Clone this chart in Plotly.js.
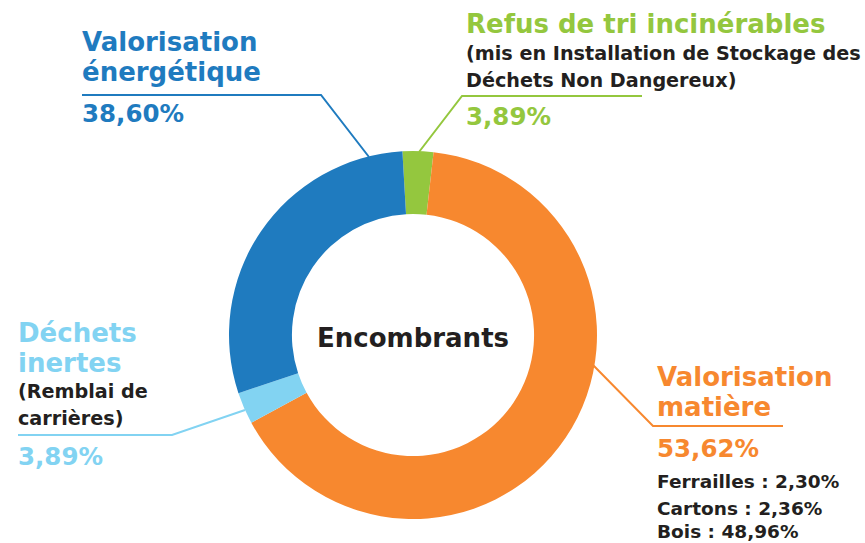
<!DOCTYPE html>
<html>
<head>
<meta charset="utf-8">
<script src="https://cdn.plot.ly/plotly-3.0.1.min.js"></script>
<style>html,body{margin:0;padding:0;background:#fff;}#chart{width:865px;height:543px;}</style>
</head>
<body>
<div id="chart"></div>
<script>
// Slice order clockwise from the top (as drawn)
const categories = ["Refus de tri incinérables", "Valorisation matière", "Déchets inertes", "Valorisation énergétique"];
// Shares as drawn in the picture (arc sizes, %)
const sliceShares = [2.7, 65.3, 2.8, 29.2];
// Percentages printed in the labels
const labelPercents = ["3,89%", "53,62%", "3,89%", "38,60%"];
const subLabels = ["Ferrailles : 2,30%", "Cartons : 2,36%", "Bois : 48,96%"];
const centerTitle = "Encombrants";

const COL = {green: "#94c73e", orange: "#f7882f", light: "#82d3f2", blue: "#1f7bbf", dark: "#231f20"};
const sliceColors = [COL.green, COL.orange, COL.light, COL.blue];

const W = 865, H = 543;
const px = x => x / W;
const py = y => 1 - y / H;
const FONT = "DejaVu Sans, sans-serif";

const cx = 413, cy = 335, R = 184;

const trace = {
  type: "pie",
  labels: categories,
  values: sliceShares,
  marker: {colors: sliceColors, line: {width: 0}},
  hole: 0.658,
  sort: false,
  direction: "clockwise",
  rotation: -3.3,
  textinfo: "none",
  hoverinfo: "label",
  showlegend: false,
  domain: {x: [px(cx - R), px(cx + R)], y: [py(cy + R), py(cy - R)]}
};

function ann(text, x, yMid, size, color) {
  return {
    text: text, x: px(x), y: py(yMid), xref: "paper", yref: "paper",
    xanchor: "left", yanchor: "middle", showarrow: false, borderpad: 0,
    font: {family: FONT, size: size, color: color, weight: 700}
  };
}

const BIG = 26, PCT = 24.5, SMALL = 19.2, SUB = 18.5;

const annotations = [
  ann("Valorisation", 81, 42.5, BIG, COL.blue),
  ann("énergétique", 81, 72, BIG, COL.blue),
  ann(labelPercents[3], 81, 113, PCT, COL.blue),

  ann("Refus de tri incinérables", 465, 24, BIG, COL.green),
  ann("(mis en Installation de Stockage des", 465, 53.5, SMALL, COL.dark),
  ann("Déchets Non Dangereux)", 465, 80.5, SMALL, COL.dark),
  ann(labelPercents[0], 465, 116, PCT, COL.green),

  ann("Déchets", 17, 332.5, BIG, COL.light),
  ann("inertes", 17, 362.5, BIG, COL.light),
  ann("(Remblai de", 17, 391.5, SMALL, COL.dark),
  ann("carrières)", 17, 418.5, SMALL, COL.dark),
  ann(labelPercents[2], 17, 456, PCT, COL.light),

  ann("Valorisation", 656, 377, BIG, COL.orange),
  ann("matière", 656, 407, BIG, COL.orange),
  ann(labelPercents[1], 656, 448, PCT, COL.orange),
  ann(subLabels[0], 656, 481.5, SUB, COL.dark),
  ann(subLabels[1], 656, 508.5, SUB, COL.dark),
  ann(subLabels[2], 656, 531.5, SUB, COL.dark),

  {text: centerTitle, x: px(cx), y: py(337.5), xref: "paper", yref: "paper", xanchor: "center", yanchor: "middle",
   showarrow: false, borderpad: 0, font: {family: FONT, size: 26, color: COL.dark, weight: 700}}
];

function line(points, color) {
  let d = "M" + points.map(p => px(p[0]) + "," + py(p[1])).join(" L");
  return {type: "path", xref: "paper", yref: "paper", path: d, line: {color: color, width: 2}};
}

const shapes = [
  line([[82, 95], [321, 95], [369, 157]], COL.blue),
  line([[642, 96], [462, 96], [419, 152]], COL.green),
  line([[18, 435], [172, 435], [245, 410]], COL.light),
  line([[783, 426], [653, 426], [593, 365]], COL.orange)
];

Plotly.newPlot("chart", [trace], {
  width: W, height: H, margin: {l: 0, r: 0, t: 0, b: 0},
  paper_bgcolor: "#fff", plot_bgcolor: "#fff",
  annotations: annotations, shapes: shapes
}, {displayModeBar: false, staticPlot: true});
</script>
</body>
</html>
